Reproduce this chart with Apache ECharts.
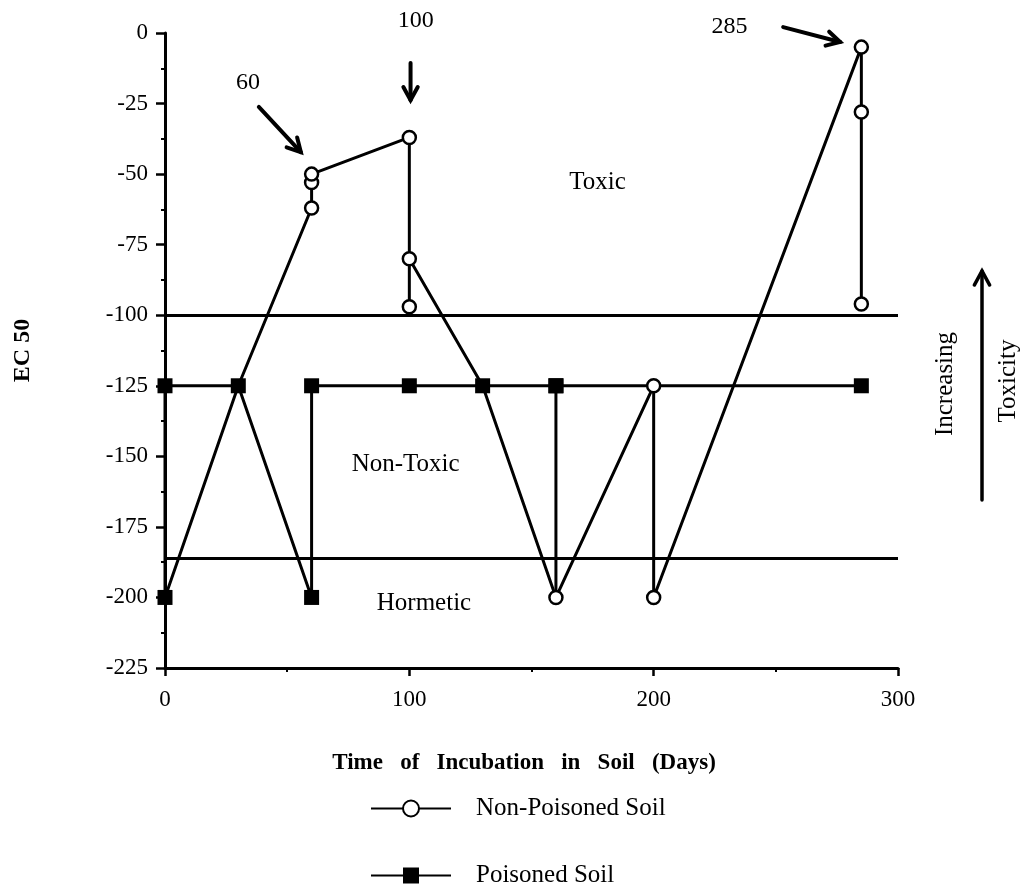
<!DOCTYPE html>
<html>
<head>
<meta charset="utf-8">
<script src="https://cdn.jsdelivr.net/npm/echarts@6/dist/echarts.min.js"></script>
<style>
  html, body { margin: 0; padding: 0; background: #fff; }
  #chart { width: 1030px; height: 890px; }
</style>
</head>
<body>
<div id="chart"></div>
<script>
// EC50 of soil extracts over incubation time
const xTickValues = [0, 100, 200, 300];
const yTickValues = [0, -25, -50, -75, -100, -125, -150, -175, -200, -225];

// Non-poisoned soil: path through replicate readings in sampling order
const nonPoisonedDays = [0, 30, 60, 60, 60, 100, 100, 100, 130, 160, 200, 200, 285, 285, 285];
const nonPoisonedEC50 = [-200, -125, -62, -53, -50, -37, -97, -80, -125, -200, -125, -200, -5, -28, -96];
// readings that sit exactly under a poisoned-soil square
const nonPoisonedUnderSquare = [0, 1, 8];

// Poisoned soil
const poisonedDays = [0, 0, 30, 60, 60, 100, 130, 160, 160, 160, 285];
const poisonedEC50 = [-200, -125, -125, -200, -125, -125, -125, -125, -200, -125, -125];
// reading that sits under a non-poisoned circle
const poisonedUnderCircle = [8];

// Zone boundaries (EC50) and zone names
const zoneBounds = [-100, -186];
const zoneNames = ['Toxic', 'Non-Toxic', 'Hormetic'];

// Sampling days called out with arrows
const calloutDays = ['60', '100', '285'];

const SERIF = '"Liberation Serif", "Times New Roman", "DejaVu Serif", serif';

const chart = echarts.init(document.getElementById('chart'), null, { renderer: 'canvas' });

function buildPoints(days, vals, hidden) {
  return days.map((d, i) => {
    const item = { value: [d, vals[i]] };
    if (hidden.includes(i)) item.symbol = 'none';
    return item;
  });
}

const option = {
  backgroundColor: '#fff',
  animation: false,
  grid: { left: 165, right: 132, top: 33, bottom: 222 },
  xAxis: {
    type: 'value',
    min: xTickValues[0],
    max: xTickValues[xTickValues.length - 1],
    interval: 100,
    name: 'Time   of   Incubation   in   Soil   (Days)',
    nameLocation: 'middle',
    nameGap: 84,
    nameTextStyle: { fontFamily: SERIF, fontWeight: 'bold', fontSize: 23, color: '#000', padding: [0, 15, 0, 0] },
    axisLine: { onZero: false, lineStyle: { color: '#000', width: 3 } },
    axisTick: { length: 8, lineStyle: { color: '#000', width: 2.5 } },
    minorTick: { show: true, splitNumber: 2, length: 4, lineStyle: { color: '#000', width: 2 } },
    axisLabel: { fontFamily: SERIF, fontSize: 23, color: '#000', margin: 20 },
    splitLine: { show: false }
  },
  yAxis: {
    type: 'value',
    min: yTickValues[yTickValues.length - 1],
    max: yTickValues[0],
    interval: 25,
    name: 'EC 50',
    nameLocation: 'middle',
    nameRotate: 90,
    nameGap: 130,
    nameTextStyle: { fontFamily: SERIF, fontWeight: 'bold', fontSize: 24, color: '#000', padding: [0, 0, 0, 0] },
    axisLine: { lineStyle: { color: '#000', width: 3 } },
    axisTick: { length: 9, lineStyle: { color: '#000', width: 2.5 } },
    minorTick: { show: true, splitNumber: 2, length: 4, lineStyle: { color: '#000', width: 2 } },
    axisLabel: { fontFamily: SERIF, fontSize: 23, color: '#000', margin: 17 },
    splitLine: { show: false }
  },
  legend: {
    orient: 'vertical',
    left: 370,
    top: 796,
    height: 120,
    padding: 0,
    itemWidth: 80,
    itemHeight: 20,
    itemGap: 42,
    selectedMode: false,
    textStyle: { fontFamily: SERIF, fontSize: 25, color: '#000', padding: [0, 0, 0, 20] },
    data: ['Non-Poisoned Soil', 'Poisoned Soil']
  },
  series: [
    {
      name: 'zones',
      type: 'line',
      silent: true,
      symbol: 'none',
      z: 1,
      lineStyle: { color: '#000', width: 3 },
      data: [],
      markLine: {
        silent: true,
        symbol: ['none', 'none'],
        label: { show: false },
        lineStyle: { color: '#000', width: 3, type: 'solid' },
        data: zoneBounds.map(v => [{ coord: [xTickValues[0], v] }, { coord: [xTickValues[xTickValues.length - 1], v] }])
      }
    },
    {
      name: 'Poisoned Soil',
      type: 'line',
      z: 3,
      symbol: 'rect',
      symbolSize: 15,
      itemStyle: { color: '#000' },
      lineStyle: { color: '#000', width: 3 },
      data: buildPoints(poisonedDays, poisonedEC50, poisonedUnderCircle)
    },
    {
      name: 'Non-Poisoned Soil',
      type: 'line',
      z: 4,
      symbol: 'circle',
      symbolSize: 13,
      itemStyle: { color: '#fff', borderColor: '#000', borderWidth: 2.5 },
      lineStyle: { color: '#000', width: 3 },
      data: buildPoints(nonPoisonedDays, nonPoisonedEC50, nonPoisonedUnderSquare)
    }
  ]
};

chart.setOption(option);

// Annotations placed in data coordinates
const toPx = p => chart.convertToPixel({ gridIndex: 0 }, p);

function arrowShapes(from, to, width, head) {
  const a = Math.atan2(to[1] - from[1], to[0] - from[0]);
  const spread = 0.5;
  const h1 = [to[0] - head * Math.cos(a - spread), to[1] - head * Math.sin(a - spread)];
  const h2 = [to[0] - head * Math.cos(a + spread), to[1] - head * Math.sin(a + spread)];
  const stroke = { stroke: '#000', lineWidth: width, lineCap: 'round', lineJoin: 'miter' };
  return [
    { type: 'polyline', shape: { points: [from, to] }, style: Object.assign({ fill: null }, stroke), z: 10 },
    { type: 'polyline', shape: { points: [h1, to, h2] }, style: Object.assign({ fill: null }, stroke), z: 10 }
  ];
}

const callouts = [
  { text: calloutDays[0], label: [34, -17.7], from: [38.4, -26.2], to: [55.6, -42.2] },
  { text: calloutDays[1], label: [102.6, 4.3], from: [100.5, -10.6], to: [100.5, -23.8] },
  { text: calloutDays[2], label: [231, 2.1], from: [253, 2.1], to: [276.3, -3.2] }
];

const zoneLabelPos = [[177, -53], [98.5, -153], [106, -202]];

const graphics = [];
callouts.forEach(c => {
  const lp = toPx(c.label);
  graphics.push({
    type: 'text', x: lp[0], y: lp[1], z: 10,
    style: { text: c.text, font: '24px ' + SERIF, fill: '#000', textAlign: 'center', textVerticalAlign: 'middle' }
  });
  arrowShapes(toPx(c.from), toPx(c.to), 4, 15).forEach(g => graphics.push(g));
});

zoneNames.forEach((n, i) => {
  const p = toPx(zoneLabelPos[i]);
  graphics.push({
    type: 'text', x: p[0], y: p[1], z: 10,
    style: { text: n, font: '25px ' + SERIF, fill: '#000', textAlign: 'center', textVerticalAlign: 'middle' }
  });
});

// "Increasing Toxicity" direction marker beside the plot
arrowShapes([982, 500], [982, 271], 3.5, 16).forEach(g => graphics.push(g));
graphics.push({
  type: 'text', x: 945, y: 384, rotation: Math.PI / 2, z: 10,
  style: { text: 'Increasing', font: '25px ' + SERIF, fill: '#000', textAlign: 'center', textVerticalAlign: 'middle' }
});
graphics.push({
  type: 'text', x: 1008, y: 381, rotation: Math.PI / 2, z: 10,
  style: { text: 'Toxicity', font: '25px ' + SERIF, fill: '#000', textAlign: 'center', textVerticalAlign: 'middle' }
});

chart.setOption({ graphic: graphics });
</script>
</body>
</html>
